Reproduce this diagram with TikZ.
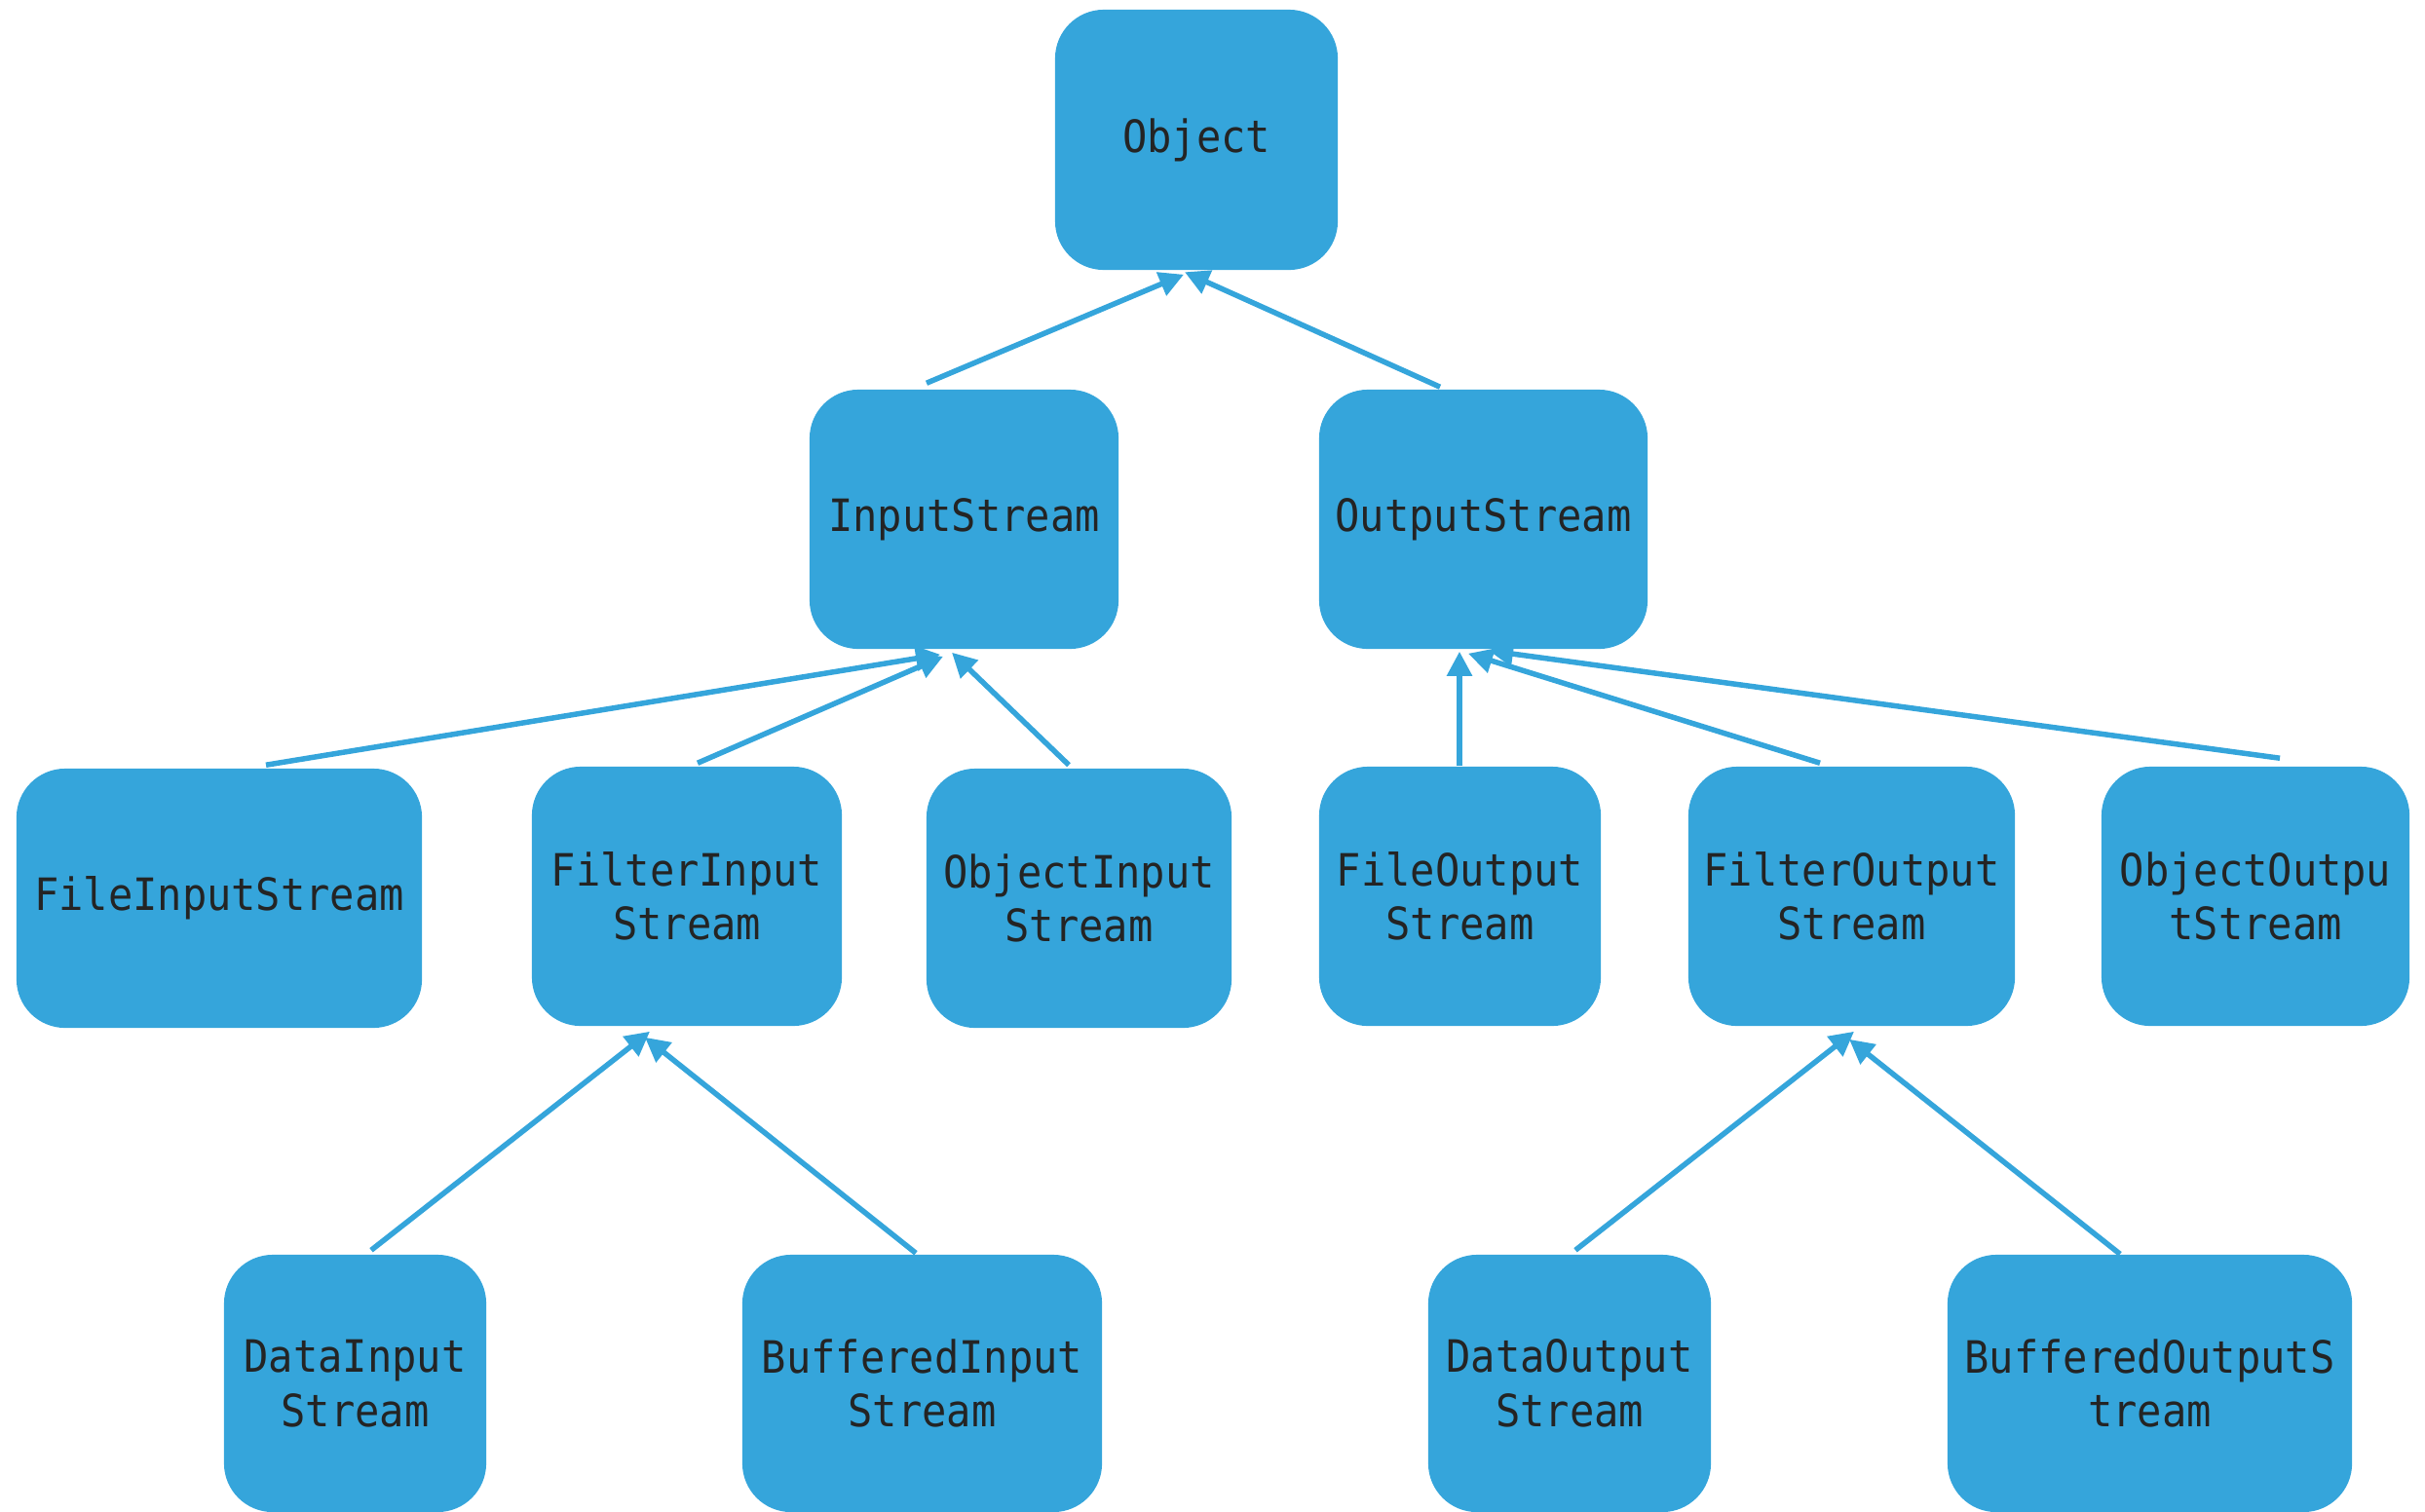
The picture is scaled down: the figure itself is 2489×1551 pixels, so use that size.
\documentclass[tikz,border=0pt]{standalone}
\usepackage{fontspec}
\setmonofont[FakeStretch=0.92]{DejaVu Sans Mono}
\usetikzlibrary{arrows.meta,calc}
\definecolor{boxblue}{HTML}{35A5DB}
\definecolor{txt}{HTML}{242424}
\begin{document}
\begin{tikzpicture}[x=0.01cm,y=-0.01cm,
  cls/.style={fill=boxblue, rounded corners=0.5cm, inner sep=0pt, align=center,
    text=txt, font=\ttfamily\fontsize{13}{15.8}\selectfont},
  inh/.style={draw=boxblue, line width=0.055cm,
    -{Triangle[length=0.25cm,width=0.25cm]}}]
\useasboundingbox (0,0) rectangle (2489,1551);

% level 0
\node[cls, minimum width=2.90cm, minimum height=2.67cm] (obj) at (1228,143.5) {Object};
% level 1
\node[cls, minimum width=3.17cm, minimum height=2.66cm] (is) at (989.5,533) {InputStream};
\node[cls, minimum width=3.37cm, minimum height=2.66cm] (os) at (1522.5,533) {OutputStream};
% level 2
\node[cls, minimum width=4.16cm, minimum height=2.66cm] (fis) at (225,922) {FileInputStream};
\node[cls, minimum width=3.18cm, minimum height=2.66cm] (filin) at (705,920) {FilterInput\\Stream};
\node[cls, minimum width=3.13cm, minimum height=2.66cm] (oin) at (1107.5,922) {ObjectInput\\Stream};
\node[cls, minimum width=2.89cm, minimum height=2.66cm] (fos) at (1498.5,920) {FileOutput\\Stream};
\node[cls, minimum width=3.35cm, minimum height=2.66cm] (filout) at (1900.5,920) {FilterOutput\\Stream};
\node[cls, minimum width=3.16cm, minimum height=2.66cm] (oout) at (2315,920) {ObjectOutpu\\tStream};
% level 3
\node[cls, minimum width=2.69cm, minimum height=2.64cm] (din) at (364.5,1420) {DataInput\\Stream};
\node[cls, minimum width=3.69cm, minimum height=2.64cm] (bin) at (946.5,1420) {BufferedInput\\Stream};
\node[cls, minimum width=2.90cm, minimum height=2.64cm] (dout) at (1611,1420) {DataOutput\\Stream};
\node[cls, minimum width=4.15cm, minimum height=2.64cm] (bout) at (2206.5,1420) {BufferedOutputS\\tream};

% inheritance connectors
\draw[inh] ($(is.north)+(-38.5,-6)$) -- ($(obj.south)+(-13,4)$);
\draw[inh] ($(os.north)+(-44.5,-2)$) -- ($(obj.south)+(-12,1.5)$);

\draw[inh] ($(fis.north)+(48,-3)$) -- ($(is.south)+(-24.5,5)$);
\draw[inh] ($(filin.north)+(11,-3)$) -- ($(is.south)+(-21.5,7)$);
\draw[inh] ($(oin.north)+(-10.5,-3)$) -- ($(is.south)+(-12.5,3)$);

\draw[inh] ($(fos.north)+(-0.5,0)$) -- ($(os.south)+(-24.5,2)$);
\draw[inh] ($(filout.north)+(-32.5,-3)$) -- ($(os.south)+(-15.5,4)$);
\draw[inh] ($(oout.north)+(25,-8)$) -- ($(os.south)+(5.5,1)$);

\draw[inh] ($(din.north)+(16.5,-4)$) -- ($(filin.south)+(-38,5)$);
\draw[inh] ($(bin.north)+(-6.5,-1)$) -- ($(filin.south)+(-43,11)$);

\draw[inh] ($(dout.north)+(6,-4)$) -- ($(filout.south)+(2.5,5)$);
\draw[inh] ($(bout.north)+(-30.5,0)$) -- ($(filout.south)+(-2.5,13)$);
\end{tikzpicture}
\end{document}
